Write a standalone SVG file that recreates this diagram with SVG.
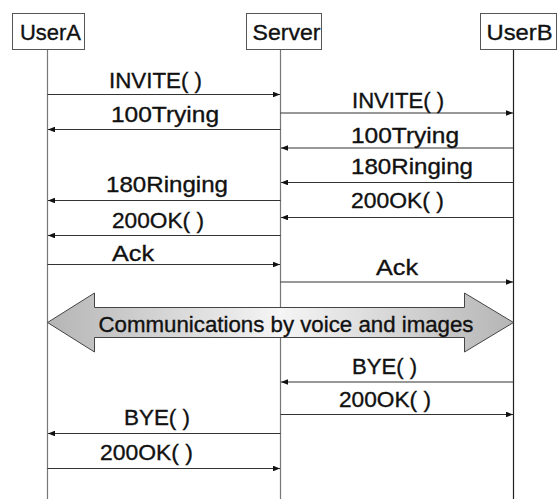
<svg xmlns="http://www.w3.org/2000/svg" width="559" height="499" viewBox="0 0 559 499">
<style>
  text { font-family: "Liberation Sans", Arial, sans-serif; font-size: 22.5px; fill: #111; stroke: #111; stroke-width: 0.35; }
  .box { fill: #fff; stroke: #555; stroke-width: 1; }
  .life { stroke: #777; stroke-width: 1.2; fill: none; }
  .msg { stroke: #333; stroke-width: 1.2; fill: none; marker-end: url(#ah); }
</style>
<defs>
  <marker id="ah" viewBox="0 0 10 8" refX="10" refY="4" markerWidth="7" markerHeight="5.6" markerUnits="userSpaceOnUse" orient="auto">
    <path d="M0,0 L10,4 L0,8 Z" fill="#111"/>
  </marker>
  <linearGradient id="gr" x1="0" y1="0" x2="1" y2="0">
    <stop offset="0" stop-color="#b5b5b5"/>
    <stop offset="0.5" stop-color="#f5f5f5"/>
    <stop offset="1" stop-color="#b5b5b5"/>
  </linearGradient>
</defs>

<g id="lifelines">
  <line class="life" x1="47.5" y1="49" x2="47.5" y2="499"/>
  <line class="life" x1="280.5" y1="49" x2="280.5" y2="499"/>
  <line class="life" x1="513.5" y1="49" x2="513.5" y2="499" style="stroke:#222"/>
</g>

<g id="UserA">
  <rect class="box" x="12.5" y="13.5" width="72" height="36"/>
  <text x="20" y="39.5" textLength="61" lengthAdjust="spacingAndGlyphs">UserA</text>
</g>
<g id="Server">
  <rect class="box" x="246.5" y="13.5" width="75" height="36"/>
  <text x="252.5" y="39.5" textLength="68" lengthAdjust="spacingAndGlyphs">Server</text>
</g>
<g id="UserB">
  <rect class="box" x="480.5" y="13.5" width="76" height="36"/>
  <text x="486.5" y="39.5" textLength="66" lengthAdjust="spacingAndGlyphs">UserB</text>
</g>

<g id="connectors">
  <line class="msg" x1="47.5" y1="94.5" x2="280" y2="94.5"/>
  <line class="msg" x1="280.5" y1="129.5" x2="48" y2="129.5"/>
  <line class="msg" x1="280.5" y1="200.5" x2="48" y2="200.5"/>
  <line class="msg" x1="280.5" y1="235.5" x2="48" y2="235.5"/>
  <line class="msg" x1="47.5" y1="264.5" x2="280" y2="264.5"/>
  <line class="msg" x1="280.5" y1="433.5" x2="48" y2="433.5"/>
  <line class="msg" x1="47.5" y1="468.5" x2="280" y2="468.5"/>

  <line class="msg" x1="280.5" y1="113" x2="513" y2="113"/>
  <line class="msg" x1="513.5" y1="148" x2="281" y2="148"/>
  <line class="msg" x1="513.5" y1="182.5" x2="281" y2="182.5"/>
  <line class="msg" x1="513.5" y1="217.5" x2="281" y2="217.5"/>
  <line class="msg" x1="280.5" y1="282" x2="513" y2="282"/>
  <line class="msg" x1="513.5" y1="382" x2="281" y2="382"/>
  <line class="msg" x1="280.5" y1="414.5" x2="513" y2="414.5"/>
</g>

<g id="labels">
  <text x="109" y="88" textLength="93" lengthAdjust="spacingAndGlyphs">INVITE( )</text>
  <text x="111" y="122" textLength="108" lengthAdjust="spacingAndGlyphs">100Trying</text>
  <text x="106" y="192" textLength="122" lengthAdjust="spacingAndGlyphs">180Ringing</text>
  <text x="112" y="228" textLength="92" lengthAdjust="spacingAndGlyphs">200OK( )</text>
  <text x="112" y="261" textLength="42" lengthAdjust="spacingAndGlyphs">Ack</text>
  <text x="124" y="425" textLength="66" lengthAdjust="spacingAndGlyphs">BYE( )</text>
  <text x="100" y="460" textLength="93" lengthAdjust="spacingAndGlyphs">200OK( )</text>

  <text x="352" y="107.5" textLength="92" lengthAdjust="spacingAndGlyphs">INVITE( )</text>
  <text x="351" y="142.5" textLength="108" lengthAdjust="spacingAndGlyphs">100Trying</text>
  <text x="351" y="174" textLength="122" lengthAdjust="spacingAndGlyphs">180Ringing</text>
  <text x="351" y="208" textLength="93" lengthAdjust="spacingAndGlyphs">200OK( )</text>
  <text x="376" y="275" textLength="42" lengthAdjust="spacingAndGlyphs">Ack</text>
  <text x="352" y="373.5" textLength="65" lengthAdjust="spacingAndGlyphs">BYE( )</text>
  <text x="339" y="406.5" textLength="92" lengthAdjust="spacingAndGlyphs">200OK( )</text>
</g>

<g id="communications">
  <polygon points="47.5,322.5 94.5,293 94.5,307.5 464.5,307.5 464.5,293 513.5,322.5 464.5,352 464.5,337.5 94.5,337.5 94.5,352" fill="url(#gr)" stroke="#444" stroke-width="1"/>
  <text x="98.5" y="331.5" textLength="375" lengthAdjust="spacingAndGlyphs">Communications by voice and images</text>
</g>
</svg>
